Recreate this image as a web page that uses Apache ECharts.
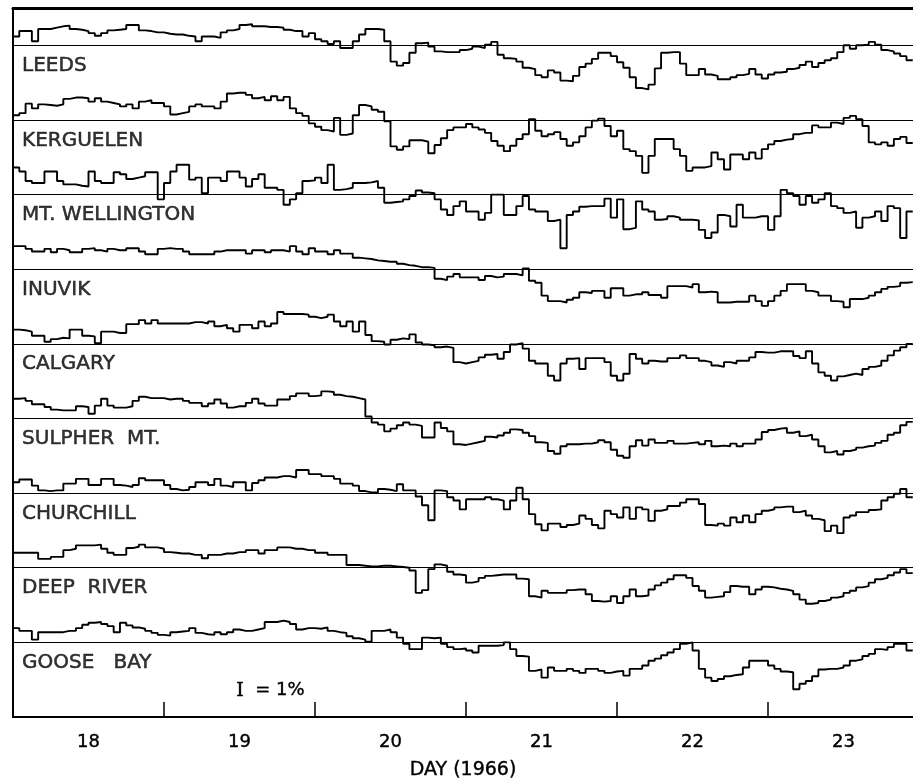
<!DOCTYPE html>
<html>
<head>
<meta charset="utf-8">
<script src="https://cdn.jsdelivr.net/npm/echarts@6/dist/echarts.min.js"></script>
<style>
  html, body { margin: 0; padding: 0; background: #fff; }
  #chart { width: 913px; height: 784px; }
</style>
</head>
<body>
<div id="chart"></div>
<script>
// Hourly neutron-monitor counting rates, percent deviation from each station's reference level.
// First bin starts at 12 UT on day 17 (day 17.5), one value per hour.
const startDay = 17.5;

const stationNames = ['LEEDS', 'KERGUELEN', 'MT. WELLINGTON', 'INUVIK', 'CALGARY',
  'SULPHER  MT.', 'CHURCHILL', 'DEEP  RIVER', 'GOOSE   BAY'];
const dayLabels = [18, 19, 20, 21, 22, 23];
const tickDays = [18.5, 19.5, 20.5, 21.5, 22.5];

const leeds = [
  0.65,1.05,1.05,0.3,1.2,1.2,1.3,1.4,1.45,1.2,
  1.15,1.05,0.9,0.7,0.9,1.1,1.15,1.2,1.5,1.5,
  1.1,1.05,0.95,0.95,0.85,0.8,0.8,0.7,0.65,0.3,
  0.65,0.65,0.55,0.95,1.1,1.2,1.5,1.55,1.4,1.4,
  1.35,1.35,1.3,1.15,1.05,1.05,0.65,0.9,0.45,0.3,
  0.1,0.3,-0.2,-0.2,0.3,0.8,1.2,1.2,1.15,0.3,
  -1.2,-1.5,-1.3,-0.55,0.15,0.2,-0.1,-0.45,-0.5,-0.5,
  -0.5,-0.35,-0.25,-0.1,-0.2,0.05,0.25,-0.7,-0.95,-1.0,
  -1.2,-1.65,-1.75,-2.2,-2.35,-1.85,-2.0,-2.6,-2.65,-2.25,
  -1.6,-1.35,-1.0,-0.55,-0.55,-0.8,-1.25,-1.65,-2.35,-3.15,
  -3.25,-2.9,-1.7,-0.55,-0.5,-0.5,-1.35,-2.2,-2.2,-1.75,
  -2.15,-2.25,-2.5,-2.5,-2.35,-2.2,-2.1,-1.75,-2.15,-2.45,
  -2.15,-2.0,-1.95,-1.75,-1.65,-1.45,-1.2,-1.6,-1.3,-1.1,
  -0.95,-0.5,0,-0.25,0,0.05,0.25,0.05,-0.35,-0.45,
  -0.6,-0.8,-1.1
];

const kerguelen = [
  0.35,0.5,1.2,0.85,1.15,1.1,1.05,1.15,1.55,1.65,
  1.65,1.6,1.35,1.6,1.35,1.25,1.15,1.0,1.15,0.85,
  1.35,1.45,1.25,1.25,1.0,0.4,0.5,0.6,1.0,1.15,
  1.0,1.0,0.85,1.35,1.95,2.0,2.0,1.85,1.6,1.7,
  1.45,1.75,1.45,1.7,0.85,0.5,0.3,-0.25,-0.5,-0.75,
  -0.85,0.15,-1.1,-1.0,0.35,1.1,1.0,0.75,0.6,-0.1,
  -1.95,-2.2,-1.95,-1.5,-1.5,-1.6,-2.45,-1.85,-1.35,-0.75,
  -0.55,-0.55,-0.3,-0.55,-0.7,-0.95,-1.55,-1.9,-2.3,-1.9,
  -1.4,-1.05,0.05,-0.8,-1.2,-1.05,-0.9,-1.4,-1.9,-1.65,
  -1.2,-0.55,-0.05,0.1,-0.45,-1.2,-0.8,-2.15,-2.3,-2.65,
  -3.9,-2.65,-1.4,-1.4,-1.4,-2.15,-2.65,-3.75,-3.5,-3.5,
  -3.4,-2.4,-2.9,-3.65,-2.55,-2.55,-2.9,-2.4,-2.85,-2.15,
  -1.8,-1.55,-1.45,-1.4,-1.05,-0.95,-0.95,-0.4,-0.55,-0.55,
  -0.2,-0.3,0.15,0.3,0.05,-0.45,-1.65,-1.8,-1.65,-1.9,
  -1.4,-1.25,-1.7
];

const mtWellington = [
  2.0,1.7,1.0,0.85,0.85,1.7,1.7,1.0,0.75,0.75,
  0.65,0.6,1.7,1.0,0.85,0.85,1.65,1.5,1.15,1.25,
  1.35,1.65,1.65,-0.35,0.85,1.7,2.2,2.2,1.1,1.25,
  0.1,1.25,1.25,1.0,1.7,1.7,1.25,0.6,1.15,1.5,
  0.5,0.5,0.35,-0.75,-0.35,0.1,1.0,1.05,1.25,0.85,
  2.2,0.35,0.4,0.5,0.85,0.85,0.9,1.0,0.5,-0.6,
  -0.55,-0.5,-0.35,-0.1,0.3,0.15,0.1,-0.35,-1.1,-1.5,
  -0.85,-0.5,-1.25,-1.25,-1.85,-1.35,0,0,-1.5,-1.5,
  -0.85,-0.1,-1.1,-1.25,-1.25,-1.95,-1.85,-3.95,-1.5,-1.25,
  -0.9,-0.85,-0.85,-0.85,-0.3,-1.7,-0.35,-2.55,-2.45,-0.5,
  -1.1,-1.25,-1.85,-1.8,-1.6,-1.7,-1.85,-1.85,-1.9,-2.6,
  -3.2,-2.8,-1.5,-1.6,-2.35,-0.75,-1.7,-1.7,-1.6,-1.6,
  -2.6,-1.6,0.35,0.1,-0.1,-0.75,-0.1,-0.6,-0.35,0.1,
  -0.85,-1.0,-1.35,-1.25,-2.45,-1.7,-1.6,-1.25,-1.95,-0.85,
  -1.0,-3.2,-1.25
];

const inuvik = [
  1.7,1.7,1.5,1.3,1.3,1.5,1.25,1.5,1.4,1.25,
  1.25,1.5,1.55,1.4,1.3,1.5,1.4,1.4,1.55,1.55,
  1.3,1.1,1.1,1.5,1.55,1.5,1.5,1.3,1.1,1.1,
  1.1,1.1,1.3,1.4,1.4,1.4,1.4,1.15,1.4,1.4,
  1.25,1.4,1.4,1.3,1.7,1.3,1.1,1.55,1.3,1.3,
  1.1,1.4,1.15,1.15,0.85,0.8,0.75,0.65,0.6,0.55,
  0.55,0.4,0.3,0.25,0.15,0.15,0.1,-0.7,-0.8,-0.55,
  -0.35,-0.6,-0.6,-0.6,-0.8,-0.5,-0.6,-0.55,-0.35,-0.35,
  -0.45,0.05,-0.85,-1.0,-1.95,-2.35,-2.35,-2.45,-2.25,-2.1,
  -1.7,-1.75,-1.6,-1.6,-2.1,-1.4,-1.4,-1.95,-1.85,-1.85,
  -1.7,-1.9,-1.9,-2.1,-1.25,-1.25,-1.25,-1.35,-1.1,-1.7,
  -1.65,-1.7,-2.45,-2.45,-2.4,-2.4,-2.4,-1.95,-2.35,-2.7,
  -2.35,-1.95,-1.6,-1.1,-1.1,-1.1,-1.6,-1.7,-1.95,-1.95,
  -2.35,-2.4,-2.8,-2.2,-2.2,-2.1,-1.95,-1.7,-1.45,-1.3,
  -1.25,-1.0,-0.95
];

const calgary = [
  1.05,1.0,0.9,0.6,0.6,0.15,0.35,0.45,0.4,1.05,
  1.05,0.6,0.55,0.05,0.9,0.9,0.8,0.8,1.45,1.45,
  1.75,1.5,1.75,1.5,1.5,1.5,1.5,1.5,1.6,1.6,
  1.5,1.65,1.3,1.4,1.15,0.9,1.4,1.4,1.15,1.65,
  1.3,1.5,2.35,2.2,2.2,2.2,2.15,2.0,1.9,2.0,
  2.15,1.65,1.3,1.65,0.9,1.65,0.65,0.2,0.15,-0.05,
  0.3,0.4,0.35,0.7,0.1,-0.05,-0.1,-0.25,-0.2,-0.3,
  -1.35,-1.45,-1.35,-1.25,-1.0,-0.8,-0.75,-1.1,-0.6,-0.05,
  0.05,-0.35,-1.25,-1.45,-1.45,-2.35,-2.7,-1.45,-1.1,-1.05,
  -1.85,-1.05,-1.05,-1.05,-1.35,-2.35,-2.7,-2.2,-0.75,-1.1,
  -1.45,-1.25,-1.3,-1.3,-1.05,-1.05,-0.85,-1.05,-1.05,-1.25,
  -1.35,-1.6,-1.7,-1.35,-1.45,-1.25,-1.25,-1.0,-0.6,-0.65,
  -0.65,-0.55,-0.55,-0.55,-0.9,-1.05,-0.55,-1.45,-2.1,-2.35,
  -2.7,-2.4,-2.3,-2.2,-2.3,-1.85,-1.7,-1.6,-1.25,-0.85,
  -0.5,-0.25,0
];

const sulpherMt = [
  1.45,1.5,1.3,1.05,1.05,0.85,0.65,0.6,0.6,0.6,
  0.9,0.85,0.35,0.95,1.45,0.95,0.8,0.8,0.9,1.3,
  1.6,1.5,1.5,1.5,1.4,1.45,1.45,1.3,1.15,1.15,
  0.9,1.1,1.4,1.1,0.8,0.9,0.9,1.15,1.45,1.1,
  0.95,0.95,1.4,1.4,1.65,1.85,1.85,1.65,1.7,2.0,
  1.95,1.75,1.65,1.6,1.5,1.4,0.15,-0.3,-0.45,-0.95,
  -0.75,-0.5,-0.3,-0.45,-0.55,-1.4,-1.4,-0.3,-0.7,-0.95,
  -1.9,-1.95,-1.85,-1.75,-1.65,-1.35,-1.4,-1.25,-1.05,-0.8,
  -0.85,-1.05,-1.3,-1.75,-1.8,-2.4,-2.6,-2.05,-1.9,-1.9,
  -1.85,-1.85,-1.75,-1.6,-1.75,-2.3,-2.75,-2.9,-2.05,-1.6,
  -2.0,-1.55,-1.8,-1.8,-1.65,-1.85,-1.85,-1.8,-1.75,-1.9,
  -1.65,-2.05,-2.0,-2.05,-1.85,-2.05,-1.85,-1.85,-1.55,-1.0,
  -0.85,-0.75,-0.7,-1.05,-0.95,-1.3,-1.2,-1.55,-2.05,-2.5,
  -2.4,-2.65,-2.4,-2.3,-2.15,-2.05,-2.0,-1.8,-1.65,-1.2,
  -1.05,-0.5,-0.25
];

const churchill = [
  0.8,1.0,1.0,0.55,0.2,0.15,0.2,0.2,0.7,0.7,
  1.05,1.05,0.6,0.6,1.05,1.05,0.6,0.55,0.45,0.6,
  1.1,0.95,0.95,0.95,0.6,0.3,0.2,0.25,0.45,0.8,
  0.8,0.6,1.05,0.55,0.45,0.8,0.8,0.2,0.75,0.95,
  1.15,1.15,1.25,1.25,1.15,1.7,1.7,1.4,1.4,1.25,
  1.25,1.05,0.7,0.7,0.55,0.15,0.05,0.05,0.3,0.25,
  0.15,0.65,0.2,0.2,-0.25,-0.9,-2.0,0.2,0.15,-0.3,
  -0.55,-1.2,-0.45,-0.45,-0.45,-0.3,-0.45,-0.55,-1.2,-0.55,
  0.4,-0.45,-1.55,-2.3,-2.75,-2.25,-2.25,-2.5,-2.35,-2.25,
  -1.65,-1.9,-2.35,-2.6,-1.3,-1.55,-1.8,-1.05,-1.9,-1.05,
  -1.2,-2.05,-1.3,-1.2,-0.95,-0.95,-0.7,-0.45,-0.45,-0.8,
  -2.35,-2.4,-2.25,-2.4,-1.8,-2.15,-1.65,-2.15,-1.55,-1.3,
  -1.2,-1.05,-1.0,-1.0,-1.4,-1.3,-1.65,-1.9,-2.0,-2.8,
  -2.4,-2.95,-1.8,-1.65,-1.4,-1.4,-1.25,-1.2,-0.55,-0.3,
  -0.05,0.3,-0.3
];

const deepRiver = [
  1.1,1.1,1.1,1.1,0.65,0.65,0.8,0.8,1.3,1.4,
  1.65,1.65,1.65,1.7,1.4,1.1,0.95,0.95,1.45,1.55,
  1.7,1.5,1.5,1.4,1.15,1.1,1.05,1.05,0.95,0.95,
  0.7,0.95,0.95,1.05,1.05,1.15,1.15,1.3,1.3,1.05,
  1.3,1.3,1.5,1.5,1.4,1.4,1.3,1.3,1.1,1.1,
  0.95,0.95,0.95,0.2,0.2,0.15,0.1,0.1,0.15,0.15,
  0.1,0.05,0,-0.2,-1.85,-1.65,-0.1,0.25,0.15,-0.3,
  -0.5,-0.55,-1.1,-1.0,-0.75,-0.6,-0.55,-0.5,-0.5,-0.5,
  -0.8,-0.85,-2.1,-2.2,-1.7,-1.85,-1.85,-1.85,-1.65,-1.6,
  -1.6,-1.95,-2.45,-2.5,-2.45,-2.1,-2.6,-2.1,-1.6,-2.1,
  -2.05,-1.6,-1.3,-1.1,-0.85,-0.55,-0.55,-0.75,-1.35,-1.7,
  -2.2,-2.15,-2.1,-1.8,-1.35,-1.4,-1.4,-1.95,-1.6,-1.4,
  -1.45,-1.55,-1.6,-1.7,-1.95,-2.35,-2.65,-2.6,-2.45,-2.35,
  -2.2,-2.1,-1.85,-1.7,-1.45,-1.35,-1.1,-0.85,-0.75,-0.55,
  -0.35,-0.1,-0.4
];

const gooseBay = [
  1.05,0.85,0.85,0.2,0.75,0.75,0.75,0.75,0.85,0.85,
  1.05,1.3,1.45,1.5,1.35,1.2,0.75,1.45,1.25,1.1,
  1.0,0.85,0.7,0.55,0.5,0.75,0.8,0.85,1.05,0.7,
  0.6,0.55,0.75,0.6,0.75,0.95,0.85,0.85,0.95,1.05,
  1.5,1.5,1.6,1.5,1.35,0.95,1.05,1.05,1.0,1.1,
  0.85,0.75,0.7,0.45,0.3,0.2,0.05,0.85,0.85,0.95,
  0.75,0.35,-0.1,-0.5,-0.5,0.35,0.3,0.35,-0.1,-0.35,
  -0.5,-0.45,-0.6,-0.75,-0.25,-0.25,-0.25,-0.2,0,-0.5,
  -1.0,-1.05,-2.1,-2.0,-2.6,-1.85,-2.1,-2.1,-1.95,-2.1,
  -2.25,-1.95,-1.95,-2.1,-2.25,-2.15,-2.1,-2.45,-1.95,-1.95,
  -1.7,-1.35,-1.2,-0.95,-0.75,-0.5,-0.1,0,-0.6,-1.95,
  -2.6,-2.85,-2.7,-2.5,-2.4,-2.35,-1.85,-1.35,-1.35,-1.35,
  -1.7,-1.95,-2.15,-2.2,-3.45,-3.05,-2.85,-2.5,-2.0,-1.95,
  -1.95,-1.85,-1.7,-1.35,-1.25,-1.0,-0.85,-0.5,-0.55,-0.35,
  -0.1,-0.1,-0.6
];

const stationValues = [leeds, kerguelen, mtWellington, inuvik, calgary,
  sulpherMt, churchill, deepRiver, gooseBay];

// Vertical separation between station baselines, in percent
const spacing = 5.5;
const labelDrop = 1.5;   // station name sits just under its baseline
const xMin = 17.5, xMax = 23.46;
const yMin = 0, yMax = 52.25;

const fontFamily = '"DejaVu Sans", "Liberation Sans", sans-serif';
const ink = '#000';

function stepPoints(values, offset) {
  const pts = values.map((v, i) => [startDay + i / 24, offset + v]);
  pts.push([startDay + values.length / 24, offset + values[values.length - 1]]);
  return pts;
}

const series = [];
stationValues.forEach((vals, k) => {
  const offset = spacing * (stationValues.length - k);
  series.push({
    name: stationNames[k],
    type: 'line',
    step: 'end',
    symbol: 'none',
    silent: true,
    animation: false,
    lineStyle: { color: ink, width: 1.9 },
    data: stepPoints(vals, offset),
    markLine: {
      silent: true,
      symbol: 'none',
      animation: false,
      label: { show: false },
      lineStyle: { color: ink, width: 1, type: 'solid' },
      data: [{ yAxis: offset }]
    }
  });
});

// Station names, placed through the same scales as the traces
series.push({
  type: 'scatter',
  symbolSize: 0,
  silent: true,
  animation: false,
  data: stationNames.map((n, k) => [xMin + 0.06, spacing * (stationNames.length - k) - labelDrop, n]),
  label: {
    show: true,
    position: 'right',
    distance: 0,
    formatter: p => p.data[2],
    color: ink,
    fontFamily: fontFamily,
    fontSize: 20,
    textBorderColor: ink,
    textBorderWidth: 0.5
  }
});

const chart = echarts.init(document.getElementById('chart'), null, { renderer: 'canvas' });
chart.setOption({
  backgroundColor: '#fff',
  animation: false,
  grid: { left: 13, right: 0, top: 8, bottom: 67, outerBoundsMode: 'none', containLabel: false },
  xAxis: [{
    type: 'value',
    min: xMin,
    max: xMax,
    position: 'bottom',
    axisLine: { show: true, lineStyle: { color: ink, width: 2 } },
    axisTick: { show: true, customValues: tickDays, inside: true, length: 15, lineStyle: { color: ink, width: 1.5 } },
    axisLabel: { show: true, customValues: dayLabels, color: ink, fontFamily: fontFamily, fontSize: 18, margin: 16,
      textBorderColor: ink, textBorderWidth: 0.4 },
    splitLine: { show: false },
    name: 'DAY (1966)',
    nameLocation: 'middle',
    nameGap: 44,
    nameTextStyle: { color: ink, fontFamily: fontFamily, fontSize: 19, textBorderColor: ink, textBorderWidth: 0.4 }
  }, {
    type: 'value',
    min: xMin,
    max: xMax,
    position: 'top',
    axisLine: { show: true, lineStyle: { color: ink, width: 3 } },
    axisTick: { show: false },
    axisLabel: { show: false },
    splitLine: { show: false }
  }],
  yAxis: {
    type: 'value',
    min: yMin,
    max: yMax,
    axisLine: { show: true, lineStyle: { color: ink, width: 2 } },
    axisTick: { show: false },
    axisLabel: { show: false },
    splitLine: { show: false }
  },
  graphic: [{
    type: 'text',
    left: 236,
    top: 681,
    style: {
      text: '{s|I}  = 1%',
      fill: ink,
      stroke: ink,
      lineWidth: 0.4,
      font: '18px "DejaVu Sans", sans-serif',
      rich: {
        s: { fontFamily: '"DejaVu Serif", serif', fontSize: 19, fill: ink }
      }
    }
  }],
  series: series
});
</script>
</body>
</html>
